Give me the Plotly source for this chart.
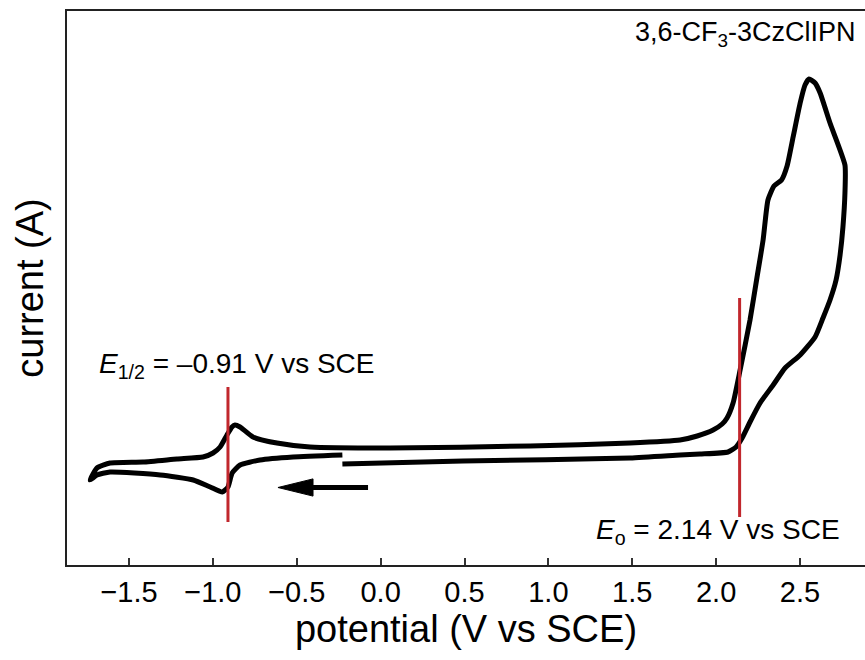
import plotly.graph_objects as go

# Cyclic voltammogram of 3,6-CF3-3CzClIPN (scan starts near -0.23 V, sweeping negative first)
# current is in arbitrary units: the axis carries no tick values
potential = [
    # cathodic sweep from the start potential
    -0.228, -0.522, -0.719, -0.838, -0.885, -0.910, -0.944, -1.016, -1.117,
    -1.314, -1.613, -1.691, -1.732,
    # anodic sweep back through the reduction couple and on to oxidation
    -1.691, -1.613, -1.416, -1.214, -1.059, -0.999, -0.957, -0.916, -0.886,
    -0.868, -0.838, -0.761, -0.618, -0.421, 0.056, 0.891, 1.487, 1.785,
    1.887, 1.982, 2.036, 2.065, 2.101, 2.143, 2.202, 2.244, 2.280, 2.309,
    2.345, 2.390, 2.423, 2.459, 2.501, 2.530, 2.554, 2.590, 2.620, 2.679,
    2.768,
    # reverse sweep after the switching potential
    2.768, 2.756, 2.739, 2.715, 2.679, 2.637, 2.590, 2.501, 2.411, 2.340,
    2.262, 2.202, 2.155, 2.119, 2.071, 1.904, 1.785, 1.487, 0.491, -0.228,
]
current = [
    0.25, 0.15, 0.00, -0.25, -0.65, -1.35, -1.60, -1.35, -1.00,
    -0.75, -0.60, -0.75, -1.00,
    -0.40, -0.15, -0.10, 0.05, 0.15, 0.35, 0.65, 1.25, 1.65,
    1.75, 1.65, 1.15, 0.85, 0.65, 0.60, 0.70, 0.85, 1.00,
    1.20, 1.50, 1.80, 2.10, 2.85, 4.50, 7.00, 9.15, 11.00, 13.00,
    13.70, 14.00, 14.70, 16.15, 17.85, 18.75, 19.05, 18.85, 18.35, 16.85,
    14.75,
    13.35, 11.65, 10.25, 9.00, 8.00, 7.10, 6.15, 5.25, 4.60, 3.75,
    2.85, 1.90, 1.10, 0.65, 0.40, 0.30, 0.25, 0.10, -0.05, -0.20,
]

# marker potentials (V vs SCE)
E_half = -0.91
E_onset = 2.14

# scan-direction arrow: tail and tip in (V, current)
arrow_tail = (-0.075, -1.375)
arrow_tip = (-0.612, -1.375)
head_len = 0.209     # V
head_half = 0.43     # current units

x_ticks = [-1.5, -1.0, -0.5, 0.0, 0.5, 1.0, 1.5, 2.0, 2.5]
x_range = [-1.8696, 2.8875]
y_range = [-5.25, 22.45]

FONT = "Arial, Liberation Sans, sans-serif"
RED = "#C1272D"

fig = go.Figure()

fig.add_trace(go.Scatter(
    x=potential, y=current, mode="lines",
    line=dict(color="black", width=5, shape="spline", smoothing=0.5),
    hoverinfo="skip", showlegend=False,
))

# vertical markers at E1/2 and onset
fig.add_trace(go.Scatter(
    x=[E_half, E_half], y=[3.65, -3.1], mode="lines",
    line=dict(color=RED, width=3), showlegend=False, hoverinfo="skip",
))
fig.add_trace(go.Scatter(
    x=[E_onset, E_onset], y=[8.1, -2.85], mode="lines",
    line=dict(color=RED, width=3), showlegend=False, hoverinfo="skip",
))

# arrow shaft and head
base_x = arrow_tip[0] + head_len
fig.add_trace(go.Scatter(
    x=[arrow_tail[0], base_x], y=[arrow_tail[1], arrow_tip[1]], mode="lines",
    line=dict(color="black", width=5), showlegend=False, hoverinfo="skip",
))
fig.add_trace(go.Scatter(
    x=[arrow_tip[0], base_x, base_x, arrow_tip[0]],
    y=[arrow_tip[1], arrow_tip[1] + head_half, arrow_tip[1] - head_half, arrow_tip[1]],
    mode="lines", fill="toself", fillcolor="black",
    line=dict(color="black", width=1), showlegend=False, hoverinfo="skip",
))

fig.add_annotation(
    x=-1.691, y=4.75, xref="x", yref="y", xanchor="left", yanchor="middle",
    text="<i>E</i><sub>1/2</sub> = \u20130.91 V vs SCE", showarrow=False,
    font=dict(family=FONT, size=28, color="black"),
)
fig.add_annotation(
    x=2.750, y=-3.55, xref="x", yref="y", xanchor="right", yanchor="middle",
    text="<i>E</i><sub>o</sub> = 2.14 V vs SCE", showarrow=False,
    font=dict(family=FONT, size=28, color="black"),
)
fig.add_annotation(
    x=2.846, y=21.3, xref="x", yref="y", xanchor="right", yanchor="middle",
    text="3,6-CF<sub>3</sub>-3CzClIPN", showarrow=False,
    font=dict(family=FONT, size=27, color="black"),
)

fig.update_layout(
    width=865, height=660,
    margin=dict(l=67, r=0, t=11, b=95),
    paper_bgcolor="white", plot_bgcolor="white",
    font=dict(family=FONT, color="black"),
    xaxis=dict(
        range=x_range, tickvals=x_ticks, ticktext=[f"{v:.1f}".replace("-", "\u2212") for v in x_ticks],
        ticks="inside", ticklen=7, tickwidth=1.5, tickcolor="#333",
        showline=True, linecolor="#222", linewidth=1.5, mirror=True,
        showgrid=False, zeroline=False,
        tickfont=dict(family=FONT, size=29, color="black"),
        title=dict(text="potential (V vs SCE)", font=dict(family=FONT, size=38, color="black"), standoff=6),
    ),
    yaxis=dict(
        range=y_range, showticklabels=False, ticks="",
        showline=True, linecolor="#222", linewidth=1.5, mirror=False,
        showgrid=False, zeroline=False,
        title=dict(text="current (A)", font=dict(family=FONT, size=38, color="black"), standoff=10),
    ),
)

fig.write_html("out.html")
